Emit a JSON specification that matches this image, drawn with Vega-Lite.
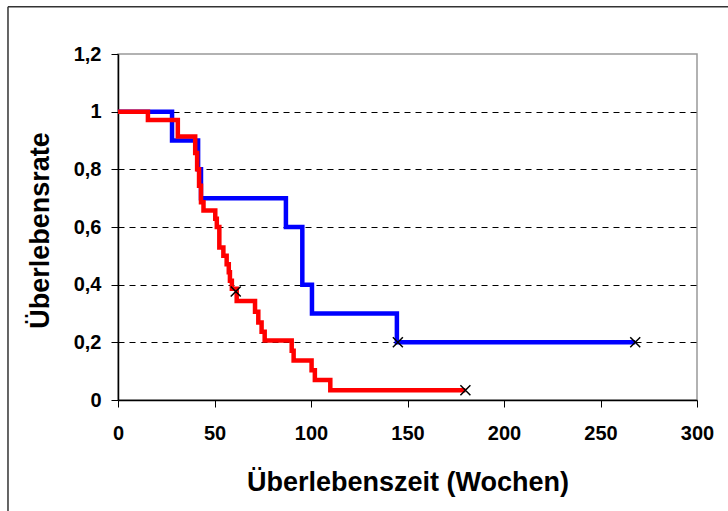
{
  "$schema": "https://vega.github.io/schema/vega-lite/v6.json",
  "width": 579,
  "height": 346,
  "autosize": {"type": "none"},
  "padding": {"left": 118, "top": 54, "right": 31, "bottom": 111},
  "background": "white",
  "config": {
    "view": {"stroke": "#999999", "strokeWidth": 1.5},
    "font": "Liberation Sans"
  },
  "datasets": {
    "km": [
      {"gruppe": "blau", "zeit": 0, "rate": 1.0},
      {"gruppe": "blau", "zeit": 28, "rate": 0.9},
      {"gruppe": "blau", "zeit": 41.5, "rate": 0.8},
      {"gruppe": "blau", "zeit": 43, "rate": 0.7},
      {"gruppe": "blau", "zeit": 87, "rate": 0.6},
      {"gruppe": "blau", "zeit": 95.5, "rate": 0.4},
      {"gruppe": "blau", "zeit": 100.5, "rate": 0.3},
      {"gruppe": "blau", "zeit": 144.5, "rate": 0.2},
      {"gruppe": "blau", "zeit": 268, "rate": 0.2},
      {"gruppe": "rot", "zeit": 0, "rate": 1.0},
      {"gruppe": "rot", "zeit": 15.5, "rate": 0.971},
      {"gruppe": "rot", "zeit": 31, "rate": 0.914},
      {"gruppe": "rot", "zeit": 40, "rate": 0.857},
      {"gruppe": "rot", "zeit": 41, "rate": 0.8},
      {"gruppe": "rot", "zeit": 42, "rate": 0.743},
      {"gruppe": "rot", "zeit": 43, "rate": 0.686},
      {"gruppe": "rot", "zeit": 44.3, "rate": 0.657},
      {"gruppe": "rot", "zeit": 50.4, "rate": 0.629},
      {"gruppe": "rot", "zeit": 51.2, "rate": 0.6},
      {"gruppe": "rot", "zeit": 52.5, "rate": 0.529},
      {"gruppe": "rot", "zeit": 54.6, "rate": 0.5},
      {"gruppe": "rot", "zeit": 56.3, "rate": 0.471},
      {"gruppe": "rot", "zeit": 57.4, "rate": 0.443},
      {"gruppe": "rot", "zeit": 58, "rate": 0.414},
      {"gruppe": "rot", "zeit": 59, "rate": 0.386},
      {"gruppe": "rot", "zeit": 61.5, "rate": 0.343},
      {"gruppe": "rot", "zeit": 71, "rate": 0.306},
      {"gruppe": "rot", "zeit": 72.7, "rate": 0.269},
      {"gruppe": "rot", "zeit": 74.4, "rate": 0.237},
      {"gruppe": "rot", "zeit": 76, "rate": 0.206},
      {"gruppe": "rot", "zeit": 90, "rate": 0.171},
      {"gruppe": "rot", "zeit": 91, "rate": 0.137},
      {"gruppe": "rot", "zeit": 100.3, "rate": 0.103},
      {"gruppe": "rot", "zeit": 102, "rate": 0.069},
      {"gruppe": "rot", "zeit": 110, "rate": 0.034},
      {"gruppe": "rot", "zeit": 180, "rate": 0.034}
    ],
    "zensiert": [
      {"gruppe": "blau", "zeit": 145, "rate": 0.2},
      {"gruppe": "blau", "zeit": 268, "rate": 0.2},
      {"gruppe": "rot", "zeit": 61, "rate": 0.376},
      {"gruppe": "rot", "zeit": 180, "rate": 0.034}
    ]
  },
  "layer": [
    {
      "data": {"name": "km"},
      "transform": [{"filter": "datum.gruppe === 'blau'"}],
      "mark": {"type": "line", "interpolate": "step-after", "strokeWidth": 4.5, "color": "#0000ff"},
      "encoding": {
        "x": {
          "field": "zeit", "type": "quantitative",
          "scale": {"domain": [0, 300], "nice": false, "zero": false},
          "axis": {
            "values": [0, 50, 100, 150, 200, 250, 300],
            "grid": false,
            "domainColor": "#000000", "domainWidth": 1.5,
            "tickColor": "#000000", "tickSize": 7, "tickWidth": 1,
            "labelFontSize": 20, "labelFontWeight": "bold", "labelColor": "#000000",
            "labelPadding": 16, "labelFlush": false,
            "title": "Überlebenszeit (Wochen)",
            "titleFontSize": 27, "titleFontWeight": "bold", "titleColor": "#000000",
            "titleBaseline": "alphabetic", "titleAlign": "center",
            "titleX": 289.5, "titleY": 90
          }
        },
        "y": {
          "field": "rate", "type": "quantitative",
          "scale": {"domain": [0, 1.2], "nice": false, "zero": false},
          "axis": {
            "values": [0, 0.2, 0.4, 0.6, 0.8, 1, 1.2],
            "labelExpr": "replace(format(datum.value, '.1~f'), '.', ',')",
            "grid": true,
            "gridColor": "#000000",
            "gridDash": [6, 5],
            "gridWidth": 1,
            "gridOpacity": {"condition": {"test": "datum.value < 0.1 || datum.value > 1.1", "value": 0}, "value": 1},
            "domainColor": "#000000", "domainWidth": 1.5,
            "tickColor": "#000000", "tickSize": 7, "tickWidth": 1,
            "labelFontSize": 20, "labelFontWeight": "bold", "labelColor": "#000000",
            "labelPadding": 10, "labelFlush": false,
            "title": "Überlebensrate",
            "titleFontSize": 27, "titleFontWeight": "bold", "titleColor": "#000000",
            "titleAngle": -90, "titleBaseline": "alphabetic", "titleAlign": "center",
            "titleX": -70, "titleY": 176
          }
        }
      }
    },
    {
      "data": {"name": "km"},
      "transform": [{"filter": "datum.gruppe === 'rot'"}],
      "mark": {"type": "line", "interpolate": "step-after", "strokeWidth": 4.5, "color": "#ff0000"},
      "encoding": {
        "x": {"field": "zeit", "type": "quantitative"},
        "y": {"field": "rate", "type": "quantitative"}
      }
    },
    {
      "data": {"name": "zensiert"},
      "mark": {
        "type": "point",
        "shape": "M-1,-1L1,1M1,-1L-1,1",
        "filled": false,
        "stroke": "#000000",
        "strokeWidth": 1.5,
        "size": 100,
        "opacity": 1
      },
      "encoding": {
        "x": {"field": "zeit", "type": "quantitative"},
        "y": {"field": "rate", "type": "quantitative"}
      }
    },
    {
      "data": {"values": [{"rahmen": "links"}]},
      "mark": {"type": "rule", "color": "#333333", "strokeWidth": 1.5, "clip": false},
      "encoding": {
        "x": {"datum": -57},
        "y": {"datum": 1.364},
        "y2": {"datum": -0.45}
      }
    },
    {
      "data": {"values": [{"rahmen": "oben"}]},
      "mark": {"type": "rule", "color": "#333333", "strokeWidth": 1.5, "clip": false},
      "encoding": {
        "x": {"datum": -57},
        "x2": {"datum": 320},
        "y": {"datum": 1.364}
      }
    }
  ]
}
